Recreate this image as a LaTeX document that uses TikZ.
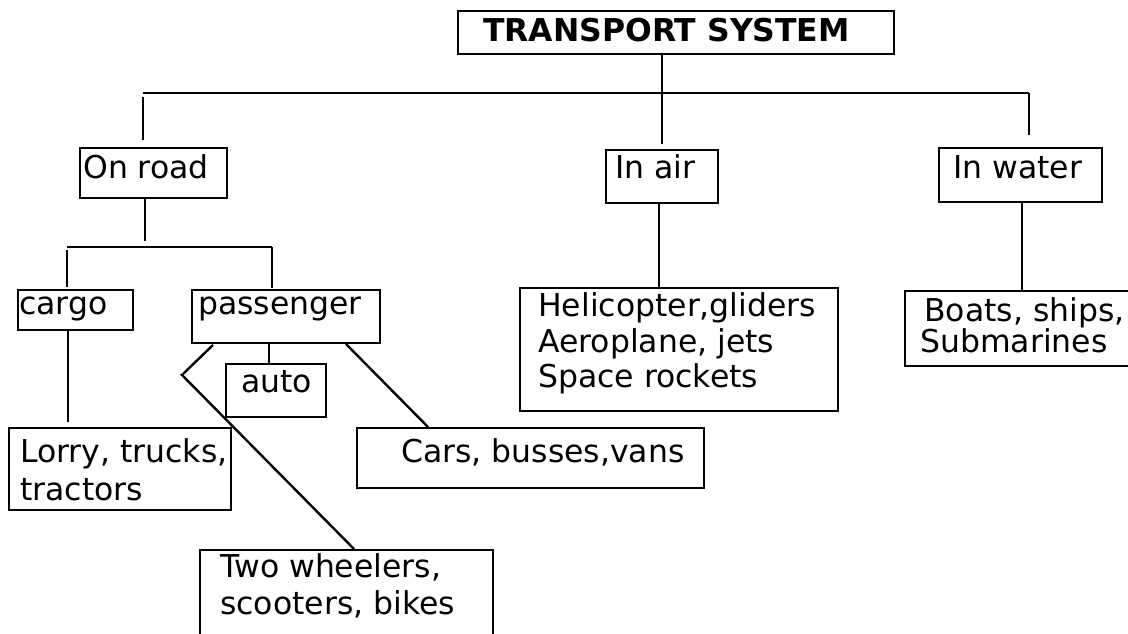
\documentclass[tikz,border=0pt]{standalone}
\usepackage{fontspec}
\setmainfont{DejaVu Sans}
\begin{document}
\begin{tikzpicture}[x=0.75pt,y=-0.75pt,
  boxst/.style={draw=black,line width=1.8pt,anchor=north west,inner sep=0pt},
  txt/.style={anchor=base west,inner sep=0pt,align=left,font=\fontsize{23.6}{28.5}\selectfont},
  conn/.style={line width=1.8pt,line cap=butt}]
\useasboundingbox (0,0) rectangle (1128,634);
\clip (0,0) rectangle (1128,634);
% boxes
\node[boxst,minimum width=436*0.75pt,minimum height=43*0.75pt] (ts) at (457,10) {};
\node[boxst,minimum width=147*0.75pt,minimum height=50*0.75pt] (road) at (79,147) {};
\node[boxst,minimum width=112*0.75pt,minimum height=53*0.75pt] (air) at (605,149) {};
\node[boxst,minimum width=163*0.75pt,minimum height=54*0.75pt] (water) at (938,147) {};
\node[boxst,minimum width=115*0.75pt,minimum height=40*0.75pt] (cargo) at (17,289) {};
\node[boxst,minimum width=188*0.75pt,minimum height=53*0.75pt] (pass) at (191,289) {};
\node[boxst,minimum width=100*0.75pt,minimum height=53*0.75pt] (auto) at (225,363) {};
\node[boxst,minimum width=222*0.75pt,minimum height=82*0.75pt] (lorry) at (8,427) {};
\node[boxst,minimum width=347*0.75pt,minimum height=60*0.75pt] (cars) at (356,427) {};
\node[boxst,minimum width=293*0.75pt,minimum height=120*0.75pt] (two) at (199,549) {};
\node[boxst,minimum width=318*0.75pt,minimum height=123*0.75pt] (airlist) at (519,287) {};
\node[boxst,minimum width=240*0.75pt,minimum height=75*0.75pt] (boats) at (904,290) {};
% texts (base = baseline of last line)
\node[txt,font=\fontsize{23.6}{28.5}\selectfont\bfseries] (tst) at (483,42) {TRANSPORT SYSTEM};
\node[txt] (roadt) at (83,179) {On road};
\node[txt] (airt) at (615,179) {In air};
\node[txt] (watert) at (953,179) {In water};
\node[txt] (cargot) at (19,315) {cargo};
\node[txt] (passt) at (198,315) {passenger};
\node[txt] (autot) at (241,393) {auto};
\node[txt,font=\fontsize{23.6}{28.5}\selectfont] (lorryt) at (20,500) {Lorry, trucks,\\tractors};
\node[txt,font=\fontsize{23.6}{27.75}\selectfont] (twot) at (220,614) {Two wheelers,\\scooters, bikes};
\node[txt] (carst) at (401,462) {Cars, busses,vans};
\node[txt,font=\fontsize{23.6}{27}\selectfont] (airlistt) at (538,388) {Helicopter,gliders\\Aeroplane, jets\\Space rockets};
\node[txt,font=\fontsize{23.6}{22.5}\selectfont] (boatst) at (920,353) {\hspace{3pt}Boats, ships,\\Submarines};
% bus coordinates
\coordinate (busL) at (143,93);
\coordinate (busM) at (662,93);
\coordinate (busR) at (1029,93);
\coordinate (sbL) at (67,247);
\coordinate (sbM) at (145,247);
\coordinate (sbR) at (272,247);
\coordinate (bend) at (183,374);
% top level
\draw[conn] (busM |- ts.south) -- (busM);
\draw[conn] (busL) -- (busR);
\draw[conn] (143,97) -- (143,140 -| busL);
\draw[conn] (busM) -- (662,144 -| busM);
\draw[conn] (busR) -- (1029,135 -| busR);
% on road
\draw[conn] (sbM |- road.south) -- (145,241);
\draw[conn] (sbL) -- (sbR);
\draw[conn] (67,250) -- (67,287 -| sbL);
\draw[conn] (sbR) -- (272,288 -| sbR);
\draw[conn] (68,0 |- cargo.south) -- (68,422);
\draw[conn] (269,0 |- pass.south) -- (269,0 |- auto.north);
\draw[conn] (213,345) -- (bend);
\draw[conn] (181,374) -- (354,0 |- two.north);
\draw[conn] (346,344) -- (428,0 |- cars.north);
% air and water
\draw[conn] (659,0 |- air.south) -- (659,0 |- airlist.north);
\draw[conn] (1022,0 |- water.south) -- (1022,0 |- boats.north);
\end{tikzpicture}
\end{document}
